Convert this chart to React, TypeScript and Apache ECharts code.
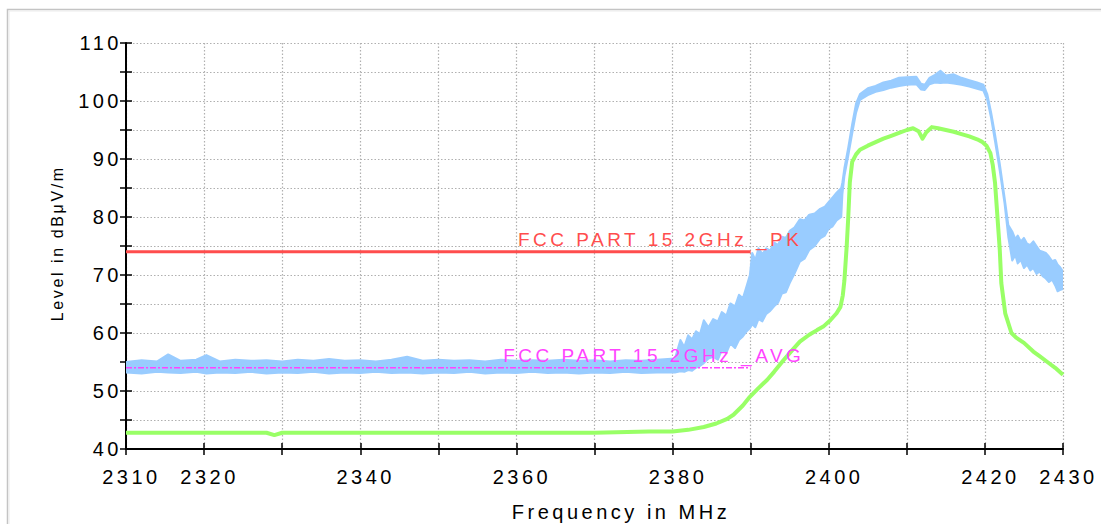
import React, { useEffect, useRef } from "react";
import * as echarts from "echarts";

const FONT = '"Liberation Sans", Arial, Helvetica, sans-serif';

// Axes
const xMin = 2310;
const xMax = 2430;
const xStep = 10;
const yMin = 40;
const yMax = 110;
const yStep = 5;
const xLabelValues = [2310, 2320, 2340, 2360, 2380, 2400, 2420, 2430];
const yLabelValues = [40, 50, 60, 70, 80, 90, 100, 110];

// Limit lines
const limitFreq = [2310, 2390];
const pkLimit = 74;
const avgLimit = 54;
const pkLabel = "FCC PART 15 2GHz _PK";
const avgLabel = "FCC PART 15 2GHz _AVG";
const pkLabelFreq = 2360.2;
const avgLabelFreq = 2358.3;

// Average trace (green)
const greenFreq = [
  2310, 2320, 2328, 2329, 2330, 2340, 2350, 2360, 2370, 2377, 2380, 2382, 2384,
  2385.6, 2387, 2387.8, 2389, 2389.9, 2391, 2392.1, 2393, 2394.2, 2395.3, 2396.3,
  2397.5, 2398.5, 2399.3, 2400.2, 2401, 2401.5, 2401.8, 2402, 2402.3, 2402.5,
  2402.7, 2403, 2403.5, 2404, 2405, 2406, 2407, 2408, 2409, 2410, 2410.8, 2411.5,
  2412, 2412.5, 2413.2, 2414, 2415, 2416, 2417, 2418, 2419, 2419.6, 2420.2,
  2420.7, 2421, 2421.3, 2421.9, 2422.1, 2422.6, 2423.4, 2424, 2425, 2426.2, 2427,
  2428, 2429, 2430,
];
const greenLevel = [
  42.8, 42.8, 42.8, 42.4, 42.8, 42.8, 42.8, 42.8, 42.8, 43.0, 43.0, 43.3, 43.8,
  44.4, 45.2, 45.9, 47.5, 49.0, 50.5, 51.9, 53.3, 55.3, 57.0, 58.5,
  59.7, 60.5, 61.1, 62.2, 63.4, 64.5, 66.5, 69.0, 75.0, 80.0,
  86.0, 89.5, 90.8, 91.6, 92.3, 92.9, 93.5, 94.0, 94.5, 95.0, 95.3, 94.8,
  93.5, 94.6, 95.5, 95.3, 95.0, 94.7, 94.3, 93.9, 93.4, 93.0, 92.3,
  91.0, 89.0, 85.8, 74.4, 68.6, 63.4, 60.0, 59.2, 58.3, 56.8, 56.0,
  55.0, 54.0, 52.8,
];

// Peak trace (light blue), lower and upper envelope of the noisy trace
const blueFreq = [
  2310, 2312, 2314, 2315.4, 2317, 2319, 2320.3, 2322, 2324, 2326, 2328, 2330,
  2332, 2334, 2336, 2338, 2340, 2342, 2344, 2346, 2348, 2350, 2352, 2354, 2356,
  2358, 2360, 2362, 2364, 2366, 2368, 2370, 2372, 2374, 2376, 2378, 2380.3,
  2381, 2381.5, 2382, 2382.5, 2383, 2383.5, 2384, 2384.6, 2385.2, 2385.8,
  2386.3, 2386.9, 2387.4, 2388, 2388.5, 2389, 2389.5, 2389.9, 2390.2, 2390.6,
  2391, 2391.5, 2392, 2392.5, 2393, 2393.5, 2394, 2394.5, 2395, 2395.6, 2396.3,
  2396.9, 2397.5, 2398.2, 2398.9, 2399.5, 2400, 2400.5, 2401, 2401.6,
  2401.75, 2402, 2402.5, 2403, 2403.5, 2404, 2405, 2406, 2407, 2408, 2409, 2410,
  2411.2, 2411.8, 2412.3, 2412.9, 2413.6, 2414.3, 2415, 2416, 2417, 2418, 2419,
  2419.8, 2420.3, 2420.8, 2421.3, 2421.9, 2422.5, 2423, 2423.5, 2423.9, 2424.2,
  2424.6, 2425, 2425.4, 2425.8, 2426.2, 2426.6, 2427, 2427.4, 2427.8, 2428.2,
  2428.6, 2429, 2429.3, 2429.6, 2430,
];
const blueLow = [
  53.2, 53.0, 53.3, 53.2, 53.1, 53.3, 53.0, 53.2, 53.1, 53.3, 53.0, 53.2,
  53.1, 53.3, 53.0, 53.2, 53.1, 53.3, 53.1, 53.2, 53.0, 53.2, 53.1, 53.3, 53.0,
  53.2, 53.1, 53.3, 53.1, 53.2, 53.0, 53.2, 53.1, 53.3, 53.1, 53.2, 53.2,
  53.4, 53.3, 53.6, 53.5, 54.0, 54.3, 54.8, 55.6, 55.9, 55.4,
  57.0, 56.6, 58.2, 57.4, 58.8, 59.4, 60.3, 60.8, 61.5, 61.0,
  62.4, 62.0, 63.3, 63.8, 64.6, 65.2, 66.8, 67.0, 68.6, 70.2, 72.3,
  72.8, 74.3, 75.0, 76.3, 76.8, 78.0, 78.4, 79.4, 80.0,
  84.0, 87.0, 90.6, 94.4, 98.0, 100.2, 101.0, 101.6, 101.9, 102.3, 102.6, 102.8,
  102.9, 102.0, 101.9, 102.9, 103.2, 103.1, 103.2, 103.0, 102.8, 102.5, 102.1,
  101.8, 100.2, 97.0, 93.0, 88.0, 82.5, 76.5, 72.5, 73.4, 72.0,
  72.6, 71.2, 71.8, 70.8, 71.2, 70.2, 70.6, 69.8, 69.4, 68.8,
  69.2, 68.2, 67.2, 67.4, 67.6,
];
const blueHigh = [
  55.0, 55.3, 55.1, 56.3, 55.2, 55.4, 56.2, 55.1, 55.4, 55.2, 55.3, 55.1,
  55.4, 55.2, 55.5, 55.2, 55.3, 55.1, 55.4, 55.9, 55.2, 55.4, 55.2, 55.3, 55.1,
  55.4, 55.2, 55.3, 55.2, 55.4, 55.2, 55.3, 55.1, 55.3, 55.2, 55.4, 55.6,
  58.8, 57.6, 59.6, 58.9, 60.3, 59.8, 62.2, 61.0, 62.4, 62.0,
  63.6, 63.0, 65.1, 64.6, 66.6, 66.0, 68.2, 70.0, 73.8, 72.6,
  74.6, 73.6, 74.6, 74.2, 75.6, 75.2, 76.6, 76.4, 77.6, 78.2, 79.6,
  79.4, 80.4, 80.6, 81.4, 81.8, 82.6, 83.4, 84.2, 85.0,
  86.0, 88.4, 92.0, 96.0, 99.6, 101.2, 102.2, 102.6, 103.2, 103.5, 104.0, 104.1,
  104.2, 103.0, 102.8, 104.0, 104.5, 105.2, 104.4, 104.6, 104.0, 103.6, 103.2,
  102.8, 101.2, 98.0, 94.2, 89.2, 83.5, 78.6, 77.5, 76.2, 76.8,
  75.8, 76.4, 75.4, 75.2, 75.8, 75.0, 74.2, 74.0, 73.8, 73.2,
  72.4, 72.6, 71.8, 71.4, 70.6,
];

const BLUE = "#99ccff";
const GREEN = "#99ff66";
const RED = "#ff4d4d";
const MAGENTA = "#ff44ff";

const GRID = { left: 126, top: 43, width: 937, height: 406 };

export default function App() {
  const ref = useRef<HTMLDivElement>(null);

  useEffect(() => {
    if (!ref.current) return;
    const chart = echarts.init(ref.current, null, { renderer: "svg" });

    const tickStyle = { color: "#000", width: 1.5 };
    const splitStyle = { color: "#b0b0b0", width: 1.2, type: [1.5, 2] as any };

    const option: any = {
      animation: false,
      backgroundColor: "#ffffff",
      textStyle: { fontFamily: FONT },
      grid: [
        { ...GRID, containLabel: false },
        { ...GRID, containLabel: false },
      ],
      xAxis: [
        {
          type: "value",
          gridIndex: 0,
          min: xMin,
          max: xMax,
          interval: xStep,
          axisLine: { show: true, onZero: false, lineStyle: { color: "#000", width: 2 } },
          axisTick: { show: true, length: 6, lineStyle: tickStyle },
          axisLabel: {
            show: true,
            margin: 18,
            fontSize: 20,
            fontFamily: FONT,
            color: "#000",
            padding: [0, 0, 0, 11],
            showMinLabel: true,
            showMaxLabel: true,
            formatter: (v: number) =>
              xLabelValues.includes(Math.round(v)) ? String(Math.round(v)) : "",
          },
          splitLine: { show: true, lineStyle: splitStyle },
        },
        {
          type: "value",
          gridIndex: 1,
          min: xMin,
          max: xMax,
          interval: xStep,
          axisLine: { show: false, onZero: false },
          axisTick: { show: true, inside: true, length: 6, lineStyle: tickStyle },
          axisLabel: { show: false },
          splitLine: { show: false },
        },
      ],
      yAxis: [
        {
          type: "value",
          gridIndex: 0,
          min: yMin,
          max: yMax,
          interval: yStep,
          axisLine: { show: true, onZero: false, lineStyle: { color: "#000", width: 2 } },
          axisTick: { show: true, length: 6, lineStyle: tickStyle },
          axisLabel: {
            show: true,
            margin: 4,
            fontSize: 20,
            fontFamily: FONT,
            color: "#000",
            padding: [5, 0, 0, 0],
            showMinLabel: true,
            showMaxLabel: true,
            formatter: (v: number) =>
              yLabelValues.includes(Math.round(v)) ? String(Math.round(v)) : "",
          },
          splitLine: { show: true, lineStyle: splitStyle },
        },
        {
          type: "value",
          gridIndex: 1,
          min: yMin,
          max: yMax,
          interval: yStep,
          axisLine: { show: false, onZero: false },
          axisTick: { show: true, inside: true, length: 6, lineStyle: tickStyle },
          axisLabel: { show: false },
          splitLine: { show: false },
        },
      ],
      series: [
        {
          name: "Peak",
          type: "custom",
          coordinateSystem: "cartesian2d",
          xAxisIndex: 0,
          yAxisIndex: 0,
          silent: true,
          clip: true,
          z: 2,
          data: [[blueFreq[0], blueLow[0]]],
          renderItem: (_params: any, api: any) => {
            const pts: number[][] = [];
            for (let i = 0; i < blueFreq.length; i++) {
              pts.push(api.coord([blueFreq[i], blueHigh[i]]));
            }
            for (let i = blueFreq.length - 1; i >= 0; i--) {
              pts.push(api.coord([blueFreq[i], blueLow[i]]));
            }
            return {
              type: "polygon",
              shape: { points: pts },
              style: { fill: BLUE, stroke: BLUE, lineWidth: 2, lineJoin: "round" },
            };
          },
        },
        {
          name: "Average",
          type: "line",
          xAxisIndex: 0,
          yAxisIndex: 0,
          showSymbol: false,
          symbol: "none",
          silent: true,
          z: 3,
          data: greenFreq.map((f, i) => [f, greenLevel[i]]),
          lineStyle: { color: GREEN, width: 4, join: "round" },
        },
        {
          name: pkLabel,
          type: "line",
          xAxisIndex: 0,
          yAxisIndex: 0,
          showSymbol: false,
          symbol: "none",
          silent: true,
          z: 4,
          data: limitFreq.map((f) => [f, pkLimit]),
          lineStyle: { color: RED, width: 3 },
        },
        {
          name: avgLabel,
          type: "line",
          xAxisIndex: 0,
          yAxisIndex: 0,
          showSymbol: false,
          symbol: "none",
          silent: true,
          z: 4,
          data: limitFreq.map((f) => [f, avgLimit]),
          lineStyle: { color: MAGENTA, width: 1.5, type: [6, 2, 2, 2] },
        },
      ],
    };

    chart.setOption(option);

    const pk = chart.convertToPixel({ gridIndex: 0 }, [pkLabelFreq, pkLimit]) as number[];
    const avg = chart.convertToPixel({ gridIndex: 0 }, [avgLabelFreq, avgLimit]) as number[];

    const textStyle = (text: string, size: number, fill: string, align: string) => ({
      text,
      fontSize: size,
      fontFamily: FONT,
      fill,
      align,
      textAlign: align,
      verticalAlign: "middle",
      textVerticalAlign: "middle",
    });

    chart.setOption({
      graphic: [
        {
          type: "rect",
          silent: true,
          shape: { x: 7.5, y: 9.5, width: 1120, height: 540 },
          style: { fill: "none", stroke: "#c4c4c4", lineWidth: 1.5 },
        },
        {
          type: "rect",
          silent: true,
          shape: { x: 9, y: 11, width: 1120, height: 540 },
          style: { fill: "none", stroke: "#ececec", lineWidth: 1 },
        },
        {
          type: "text",
          x: 621,
          y: 512,
          silent: true,
          style: textStyle("Frequency in MHz", 20, "#000", "center"),
        },
        {
          type: "text",
          x: 57.5,
          y: 243.3,
          rotation: Math.PI / 2,
          silent: true,
          style: textStyle("Level in dBμV/m", 16, "#000", "center"),
        },
        {
          type: "text",
          x: pk[0],
          y: pk[1] - 12,
          silent: true,
          z: 100,
          style: textStyle(pkLabel, 19, RED, "left"),
        },
        {
          type: "text",
          x: avg[0],
          y: avg[1] - 12,
          silent: true,
          z: 100,
          style: textStyle(avgLabel, 19, MAGENTA, "left"),
        },
      ],
    });

    return () => chart.dispose();
  }, []);

  return (
    <>
      <style>{`text[style*="16px"]{letter-spacing:2.6px;}`}</style>
      <div
        ref={ref}
        style={{
          position: "fixed",
          left: 0,
          top: 0,
          width: 1101,
          height: 524,
          background: "#fff",
          letterSpacing: "3.5px",
        }}
      />
    </>
  );
}
